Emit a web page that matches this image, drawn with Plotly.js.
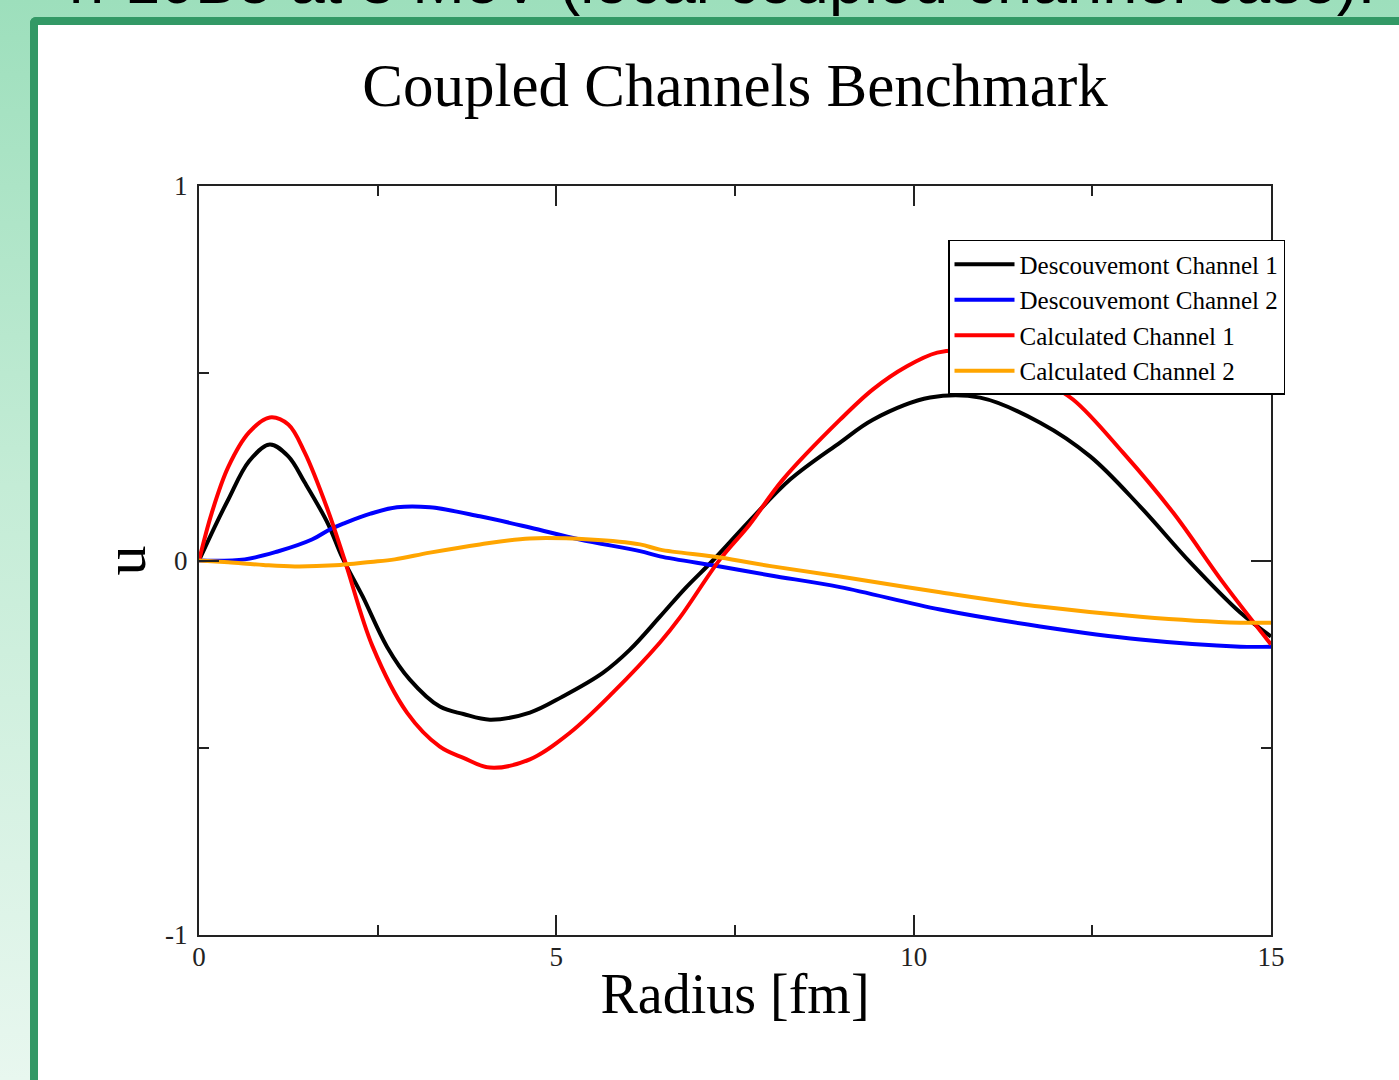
<!DOCTYPE html>
<html>
<head>
<meta charset="utf-8">
<script src="https://cdn.plot.ly/plotly-3.0.1.min.js"></script>
<style>
  html, body { margin: 0; padding: 0; width: 1399px; height: 1080px; overflow: hidden; }
  body { position: relative; background: linear-gradient(to bottom, #9ddfbc 0%, #c4ecd6 45%, #e8f7ef 100%); }
  #slideTitle { position: absolute; left: 69px; top: -50px; font-family: "Liberation Sans", Arial, sans-serif; font-size: 63px; line-height: 63px; color: #000; white-space: nowrap; z-index: 3; }
  #frame { position: absolute; left: 30px; top: 17px; width: 1400px; height: 1100px; background: #ffffff; border-left: 8px solid #339966; border-top: 8px solid #339966; border-top-left-radius: 6px; z-index: 1; }
  #chart { position: absolute; left: 0; top: 0; width: 1399px; height: 1080px; z-index: 2; }
</style>
</head>
<body>
<div id="slideTitle">n-10Be at 3 MeV (local coupled channel case).</div>
<div id="frame"></div>
<div id="chart"></div>
<script>
// ---- data ----
const seriesNames = ["Descouvemont Channel 1", "Descouvemont Channel 2", "Calculated Channel 1", "Calculated Channel 2"];
const seriesColors = ["#000000", "#0000ff", "#ff0000", "#ffa500"];

const desc1X = [0, 0.22, 0.41, 0.7, 0.99, 1.25, 1.48, 1.8, 2.0, 2.29, 2.63, 2.95, 3.37, 3.7, 4.07, 4.63, 5.09, 5.65, 6.03, 6.45, 6.8, 7.19, 7.7, 8.27, 8.97, 9.43, 10.23, 10.93, 11.77, 12.47, 13.17, 13.87, 14.57, 15];
const desc1Y = [0, 0.09, 0.163, 0.265, 0.31, 0.278, 0.208, 0.10, 0.01, -0.096, -0.23, -0.318, -0.39, -0.41, -0.425, -0.406, -0.363, -0.30, -0.238, -0.15, -0.075, 0, 0.105, 0.216, 0.315, 0.376, 0.435, 0.435, 0.368, 0.278, 0.144, -0.005, -0.139, -0.203];

const desc2X = [0, 0.64, 1.1, 1.58, 1.83, 2.04, 2.4, 2.77, 3.23, 3.93, 4.63, 5.33, 6.17, 6.45, 7.29, 8.0, 8.97, 10.37, 11.77, 13.17, 14.57, 15];
const desc2Y = [0, 0.003, 0.024, 0.056, 0.083, 0.10, 0.125, 0.142, 0.142, 0.118, 0.088, 0.056, 0.025, 0.011, -0.016, -0.04, -0.071, -0.131, -0.176, -0.211, -0.23, -0.23];

const calc1X = [0, 0.18, 0.41, 0.7, 0.99, 1.25, 1.48, 1.8, 2.04, 2.43, 2.91, 3.37, 3.7, 4.07, 4.63, 5.19, 5.79, 6.45, 6.73, 7.29, 7.7, 8.17, 8.97, 9.43, 9.9, 10.33, 10.7, 11.2, 11.77, 12.23, 12.93, 13.63, 14.33, 15];
const calc1Y = [0, 0.128, 0.25, 0.342, 0.382, 0.363, 0.288, 0.136, 0, -0.23, -0.406, -0.497, -0.527, -0.553, -0.531, -0.46, -0.353, -0.219, -0.152, 0.003, 0.095, 0.216, 0.376, 0.457, 0.518, 0.555, 0.56, 0.535, 0.483, 0.43, 0.288, 0.128, -0.059, -0.224];

const calc2X = [0, 0.41, 0.9, 1.34, 1.9, 2.4, 2.74, 3.23, 3.93, 4.63, 5.47, 6.17, 6.45, 7.29, 8.0, 8.97, 10.37, 11.77, 13.17, 14.57, 15];
const calc2Y = [0, -0.005, -0.012, -0.016, -0.013, -0.004, 0.003, 0.021, 0.043, 0.059, 0.056, 0.043, 0.029, 0.008, -0.015, -0.043, -0.085, -0.123, -0.15, -0.166, -0.166];

const xTickVals = [0, 5, 10, 15];
const xTickText = ["0", "5", "10", "15"];
const yTickVals = [-1, 0, 1];
const yTickText = ["-1", "0", "1"];

const chartTitle = "Coupled Channels Benchmark";
const xTitle = "Radius [fm]";
const yTitle = "u";

// ---- chart ----
const serif = "'Liberation Serif', 'Times New Roman', Times, serif";
const xs = [desc1X, desc2X, calc1X, calc2X];
const ys = [desc1Y, desc2Y, calc1Y, calc2Y];

const traces = seriesNames.map((name, i) => ({
  type: "scatter",
  mode: "lines",
  name: name,
  x: xs[i],
  y: ys[i],
  line: { color: seriesColors[i], width: 4, shape: "spline", smoothing: 1 }
}));

const axisCommon = {
  showline: true, linecolor: "#222", linewidth: 2, mirror: "ticks",
  ticks: "inside", ticklen: 20, tickwidth: 1.5, tickcolor: "#222",
  showgrid: false, zeroline: false,
  tickfont: { family: serif, size: 27, color: "#222" },
  fixedrange: true
};

const layout = {
  width: 1399, height: 1080,
  paper_bgcolor: "rgba(0,0,0,0)",
  plot_bgcolor: "#ffffff",
  margin: { l: 199, r: 128, t: 186, b: 145, pad: 0 },
  showlegend: true,
  title: {
    text: chartTitle,
    font: { family: serif, size: 61, color: "#000" },
    x: 0.5, xref: "paper", xanchor: "center",
    y: 0.941, yref: "container", yanchor: "top"
  },
  xaxis: Object.assign({}, axisCommon, {
    range: [0, 15],
    tickmode: "array", tickvals: xTickVals, ticktext: xTickText,
    minor: { tickmode: "linear", tick0: 0, dtick: 2.5, ticks: "inside", ticklen: 10, tickwidth: 1.5, tickcolor: "#222", showgrid: false },
    ticklabelstandoff: -3,
    title: { text: xTitle, font: { family: serif, size: 56, color: "#000" }, standoff: 2 }
  }),
  yaxis: Object.assign({}, axisCommon, {
    range: [-1, 1],
    tickmode: "array", tickvals: yTickVals, ticktext: yTickText,
    minor: { tickmode: "linear", tick0: 0, dtick: 0.5, ticks: "inside", ticklen: 10, tickwidth: 1.5, tickcolor: "#222", showgrid: false },
    ticklabelstandoff: 4,
    title: { text: yTitle, font: { family: serif, size: 60, color: "#000" }, standoff: 0 }
  }),
  legend: {
    x: 0.6987, y: 0.928, xanchor: "left", yanchor: "top",
    xref: "paper", yref: "paper",
    bgcolor: "#ffffff", bordercolor: "#000", borderwidth: 1.5,
    font: { family: serif, size: 25, color: "#000" },
    itemwidth: 60,
    tracegroupgap: 0
  }
};

Plotly.newPlot("chart", traces, layout, { displayModeBar: false, responsive: false });
</script>
</body>
</html>
